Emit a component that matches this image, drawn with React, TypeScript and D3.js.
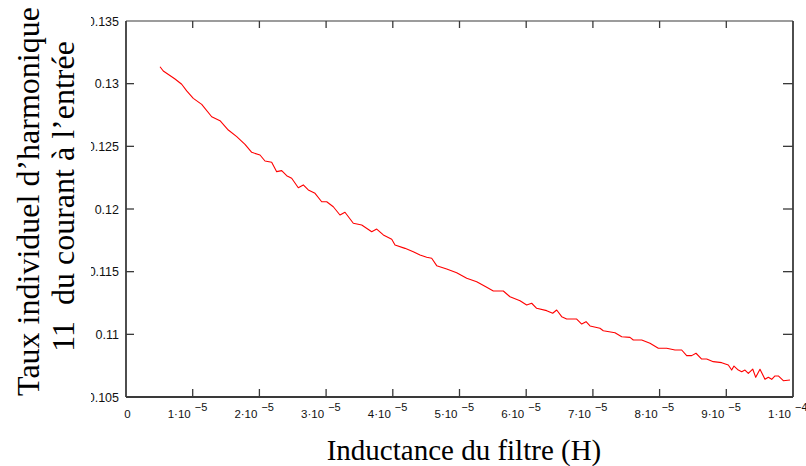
import React from "react";
import * as d3 from "d3";

// Inductance of the filter, in microhenry (µH)
const inductanceUH: number[] = [
  5.10, 5.59, 7.35, 8.35, 9.10, 10.09, 11.35, 12.85, 14.09, 15.34, 16.60, 17.84, 18.85, 20.09, 20.84,
  21.84, 22.59, 23.34, 24.09, 24.84, 25.83, 26.58, 27.33, 28.34, 29.34, 30.09, 31.08, 32.08, 32.83,
  34.08, 35.34, 36.84, 37.59, 38.58, 39.84, 40.33, 41.83, 43.07, 44.08, 45.08, 45.83, 46.58, 48.08,
  49.58, 51.08, 52.58, 54.08, 55.07, 56.57, 57.57, 59.07, 60.07, 60.82, 61.57, 63.07, 63.97, 64.57,
  65.32, 66.07, 67.57, 68.32, 68.97, 69.57, 71.06, 71.56, 73.31, 74.32, 75.56, 76.06, 77.32, 78.56,
  79.81, 81.06, 82.31, 83.31, 84.06, 84.81, 85.46, 86.31, 87.06, 88.05, 89.31, 90.30, 90.81, 91.15,
  91.80, 92.31, 92.80, 93.30, 93.96, 94.41, 95.05, 95.80, 96.30, 96.81, 97.30, 97.80, 98.55, 99.55,
];

// Individual harmonic rate (11th harmonic) of the input current
const harmonicRate: number[] = [
  0.13135, 0.13101, 0.13037, 0.12995, 0.12942, 0.12883, 0.12835, 0.12736, 0.12705, 0.12630, 0.12577,
  0.12516, 0.12452, 0.12431, 0.12383, 0.12373, 0.12298, 0.12306, 0.12266, 0.12245, 0.12170, 0.12192,
  0.12152, 0.12125, 0.12058, 0.12058, 0.12018, 0.11952, 0.11974, 0.11886, 0.11872, 0.11819, 0.11840,
  0.11793, 0.11758, 0.11713, 0.11686, 0.11659, 0.11633, 0.11615, 0.11607, 0.11548, 0.11521, 0.11492,
  0.11447, 0.11420, 0.11375, 0.11346, 0.11346, 0.11300, 0.11268, 0.11234, 0.11248, 0.11208, 0.11189,
  0.11168, 0.11194, 0.11141, 0.11122, 0.11122, 0.11082, 0.11101, 0.11067, 0.11048, 0.11029, 0.11013,
  0.10981, 0.10976, 0.10955, 0.10955, 0.10929, 0.10889, 0.10889, 0.10875, 0.10875, 0.10830, 0.10830,
  0.10849, 0.10803, 0.10803, 0.10782, 0.10774, 0.10755, 0.10715, 0.10747, 0.10715, 0.10702, 0.10715,
  0.10689, 0.10723, 0.10657, 0.10721, 0.10641, 0.10657, 0.10641, 0.10668, 0.10668, 0.10630, 0.10636,
];

// x ticks in µH and their labels (mantissa, exponent)
const xTicks: number[] = [0, 10, 20, 30, 40, 50, 60, 70, 80, 90, 100];
const xTickMantissa: string[] = ["0", "1", "2", "3", "4", "5", "6", "7", "8", "9", "1"];
const xTickExponent: string[] = ["", "−5", "−5", "−5", "−5", "−5", "−5", "−5", "−5", "−5", "−4"];

const yTicks: number[] = [0.135, 0.13, 0.125, 0.12, 0.115, 0.11, 0.105];
const yTickLabels: string[] = ["0.135", "0.13", "0.125", "0.12", "0.115", "0.11", "0.105"];

const yTitleLine1 = "Taux individuel d’harmonique";
const yTitleLine2 = "11  du courant à l’entrée";
const xTitle = "Inductance du filtre (H)";

const W = 806;
const H = 466;
const left = 126;
const right = 793;
const top = 21;
const bottom = 397;

export default function App() {
  const x = d3.scaleLinear().domain([0, 100]).range([left, right]);
  const y = d3.scaleLinear().domain([0.105, 0.135]).range([bottom, top]);
  const data = d3.zip(inductanceUH, harmonicRate) as [number, number][];
  const line = d3
    .line<[number, number]>()
    .x((d) => x(d[0]))
    .y((d) => y(d[1]));

  const tickLen = 8;
  const axisColor = "#3a3a3a";
  const innerX = xTicks.filter((t) => t > 0 && t < 100);
  const innerY = yTicks.filter((t) => t > 0.105 && t < 0.135);

  return (
    <svg
      width={W}
      height={H}
      style={{ position: "absolute", left: 0, top: 0, background: "#fff" }}
    >
      <defs>
        <clipPath id="ylabclip">
          <rect x={91} y={0} width={40} height={H} />
        </clipPath>
      </defs>
      <rect x={0} y={0} width={W} height={H} fill="#fff" />

      {/* frame */}
      <line x1={left} x2={right} y1={top} y2={top} stroke={axisColor} strokeWidth={1.2} />
      <line x1={left} x2={right} y1={bottom} y2={bottom} stroke={axisColor} strokeWidth={1.8} />
      <line x1={left} x2={left} y1={top} y2={bottom} stroke={axisColor} strokeWidth={1.8} />
      <line x1={right} x2={right} y1={top} y2={bottom} stroke={axisColor} strokeWidth={1.8} />

      {/* x ticks (bottom and top, inward) */}
      {innerX.map((t) => (
        <g key={"xt" + t}>
          <line x1={x(t)} x2={x(t)} y1={bottom} y2={bottom - tickLen} stroke={axisColor} strokeWidth={1.3} />
          <line x1={x(t)} x2={x(t)} y1={top} y2={top + tickLen - 1} stroke={axisColor} strokeWidth={1.3} />
        </g>
      ))}
      {/* y ticks (left and right, inward) */}
      {innerY.map((t) => (
        <g key={"yt" + t}>
          <line x1={left} x2={left + tickLen} y1={y(t)} y2={y(t)} stroke={axisColor} strokeWidth={1.3} />
          <line x1={right} x2={right - tickLen - 2} y1={y(t)} y2={y(t)} stroke={axisColor} strokeWidth={1.3} />
        </g>
      ))}

      {/* y tick labels (cropped on the left as in the original) */}
      <g clipPath="url(#ylabclip)">
        {yTicks.map((t, i) => (
          <text
            key={"yl" + t}
            x={119}
            y={y(t) + 4.5}
            textAnchor="end"
            fontFamily="'Liberation Sans', Arial, sans-serif"
            fontSize={12.5}
            fill="#111"
          >
            {yTickLabels[i]}
          </text>
        ))}
      </g>

      {/* x tick labels */}
      {xTicks.map((t, i) =>
        xTickExponent[i] === "" ? (
          <text
            key={"xl" + t}
            x={x(t) + 1.5}
            y={418}
            textAnchor="middle"
            fontFamily="'Liberation Sans', Arial, sans-serif"
            fontSize={11.5}
            fill="#111"
          >
            {xTickMantissa[i]}
          </text>
        ) : (
          <text
            key={"xl" + t}
            x={x(t) - 25}
            y={418}
            textAnchor="start"
            fontFamily="'Liberation Sans', Arial, sans-serif"
            fontSize={11.5}
            fill="#111"
          >
            {xTickMantissa[i] + "·10"}
            <tspan dx={4} dy={-7} fontSize={11}>
              {xTickExponent[i]}
            </tspan>
          </text>
        )
      )}

      {/* curve */}
      <path d={line(data) || ""} fill="none" stroke="#ff0000" strokeWidth={1.1} strokeLinejoin="round" />

      {/* axis titles */}
      <text
        transform={`translate(39, 201.5) rotate(-90)`}
        textAnchor="middle"
        fontFamily="'Liberation Serif', 'Times New Roman', serif"
        fontSize={32}
        fill="#000"
      >
        {yTitleLine1}
      </text>
      <text
        transform={`translate(74, 196.5) rotate(-90)`}
        textAnchor="middle"
        fontFamily="'Liberation Serif', 'Times New Roman', serif"
        fontSize={32}
        fill="#000"
        style={{ whiteSpace: "pre" }}
      >
        {yTitleLine2}
      </text>
      <text
        x={464}
        y={460}
        textAnchor="middle"
        fontFamily="'Liberation Serif', 'Times New Roman', serif"
        fontSize={29}
        fill="#000"
      >
        {xTitle}
      </text>
    </svg>
  );
}
